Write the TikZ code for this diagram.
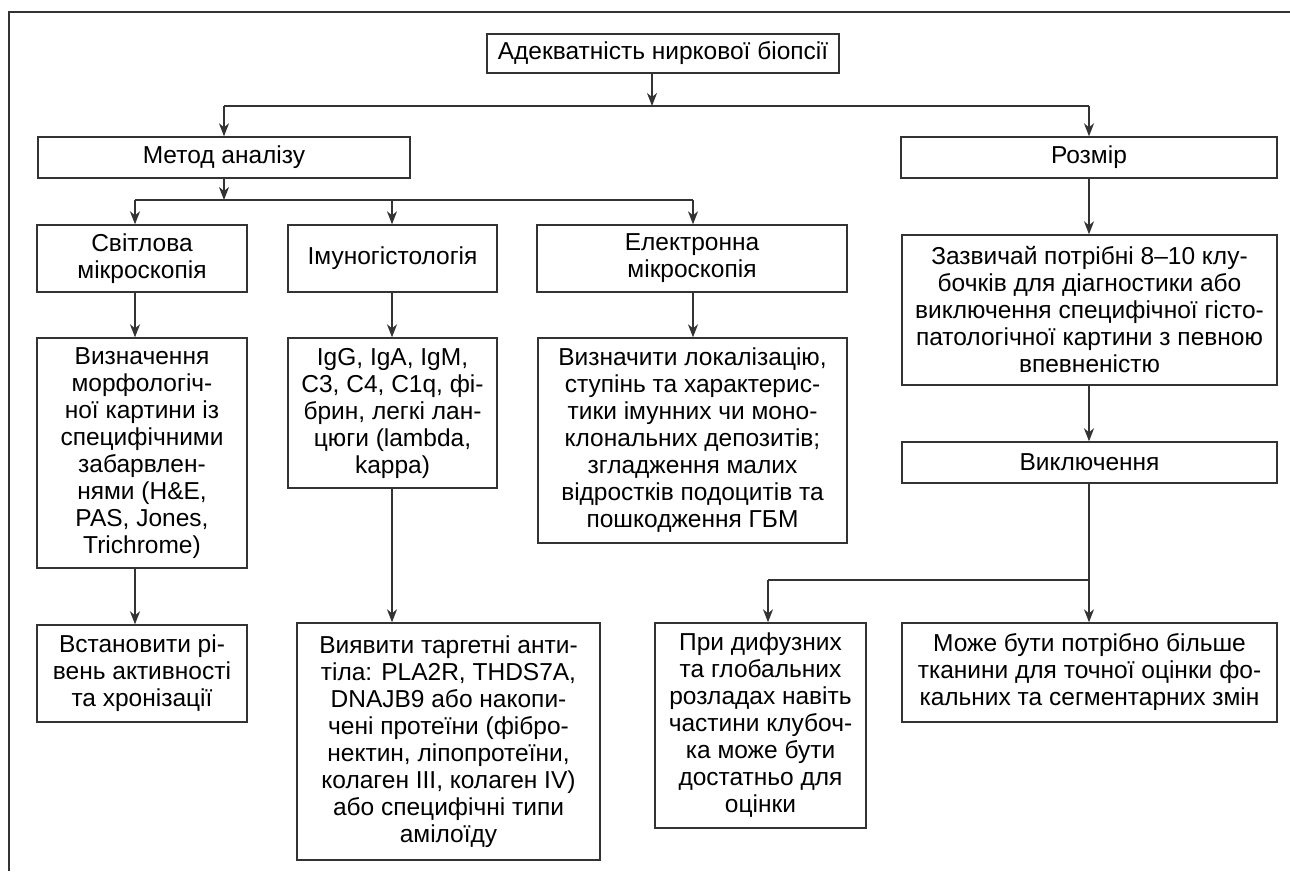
\documentclass[tikz,border=0pt]{standalone}
\usepackage{fontspec}
\setmainfont{Liberation Sans}
\usetikzlibrary{arrows.meta}
\begin{document}
\begin{tikzpicture}[x=1pt,y=-1pt,
  box/.style={draw=black!80, line width=1.4pt, inner sep=0pt, align=center, text=black, font=\fontsize{24.5}{27}\selectfont},
  arr/.style={draw=black!80, line width=1.4pt, -{Stealth[length=13pt,width=10pt,inset=4pt]}},
  ln/.style={draw=black!80, line width=1.4pt}]
\useasboundingbox (0,0) rectangle (1290,871);
\draw[ln] (9,871) -- (9,12) -- (1290,12);

\node[box, minimum width=352, minimum height=39] (top) at (663,53.5) {Адекватність ниркової біопсії};
\node[box, minimum width=372, minimum height=41] (metod) at (224,157.5) {Метод аналізу};
\node[box, minimum width=376, minimum height=41] (rozmir) at (1089,157.5) {Розмір};
\node[box, minimum width=210, minimum height=67] (svit) at (142,258.5) {Світлова\\мікроскопія};
\node[box, minimum width=209, minimum height=67] (imuno) at (392.5,258.5) {Імуногістологія};
\node[box, minimum width=310, minimum height=67] (elektr) at (692,258.5) {Електронна\\мікроскопія};
\node[box, minimum width=210, minimum height=230] (vyzn) at (142,453) {Визначення\\морфологіч-\\ної картини із\\специфічними\\забарвлен-\\нями (H\&E,\\PAS, Jones,\\Trichrome)};
\node[box, minimum width=209, minimum height=150] (igg) at (392.5,413) {IgG, IgA, IgM,\\C3, C4, C1q, фі-\\брин, легкі лан-\\цюги (lambda,\\kappa)};
\node[box, minimum width=309, minimum height=205] (vyznach) at (692.5,440.5) {Визначити локалізацію,\\ступінь та характерис-\\тики імунних чи моно-\\клональних депозитів;\\згладження малих\\відростків подоцитів та\\пошкодження ГБМ};
\node[box, minimum width=375, minimum height=150] (zazv) at (1089.5,310) {Зазвичай потрібні 8–10 клу-\\бочків для діагностики або\\виключення специфічної гісто-\\патологічної картини з певною\\впевненістю};
\node[box, minimum width=375, minimum height=41] (vykl) at (1089.5,462.5) {Виключення};
\node[box, minimum width=210, minimum height=97] (vstan) at (142,673.5) {Встановити рі-\\вень активності\\та хронізації};
\node[box, minimum width=303, minimum height=237] (vyyav) at (448.5,741.5) {Виявити таргетні анти-\\тіла: PLA2R, THDS7A,\\DNAJB9 або накопи-\\чені протеїни (фібро-\\нектин, ліпопротеїни,\\колаген III, колаген IV)\\або специфічні типи\\амілоїду};
\node[box, minimum width=211, minimum height=205] (pry) at (760.5,725.5) {При дифузних\\та глобальних\\розладах навіть\\частини клубоч-\\ка може бути\\достатньо для\\оцінки};
\node[box, minimum width=375, minimum height=99] (mozhe) at (1089.5,672.5) {Може бути потрібно більше\\тканини для точної оцінки фо-\\кальних та сегментарних змін};

\coordinate (j0) at (652,106);
\coordinate (jL) at (224,106);
\coordinate (jR) at (1089,106);
\coordinate (j2) at (224,200);
\coordinate (a1) at (135,200);
\coordinate (a2) at (392,200);
\coordinate (a3) at (693,200);
\coordinate (j3) at (1089,580);
\coordinate (b1) at (768,580);

\draw[arr] (top.south -| j0) -- (j0);
\draw[ln] (jL) -- (jR);
\draw[arr] (jL) -- (metod.north -| jL);
\draw[arr] (jR) -- (rozmir.north -| jR);

\draw[arr] (metod.south -| j2) -- (j2);
\draw[ln] (a1) -- (a3);
\draw[arr] (a1) -- (svit.north -| a1);
\draw[arr] (a2) -- (imuno.north -| a2);
\draw[arr] (a3) -- (elektr.north -| a3);

\draw[arr] (svit.south -| a1) -- (vyzn.north -| a1);
\draw[arr] (vyzn.south -| a1) -- (vstan.north -| a1);
\draw[arr] (imuno.south -| a2) -- (igg.north -| a2);
\draw[arr] (igg.south -| a2) -- (vyyav.north -| a2);
\draw[arr] (elektr.south -| a3) -- (vyznach.north -| a3);

\draw[arr] (rozmir.south -| jR) -- (zazv.north -| jR);
\draw[arr] (zazv.south -| jR) -- (vykl.north -| jR);
\draw[ln] (vykl.south -| j3) -- (j3) -- (b1);
\draw[arr] (j3) -- (mozhe.north -| j3);
\draw[arr] (b1) -- (pry.north -| b1);
\end{tikzpicture}
\end{document}
